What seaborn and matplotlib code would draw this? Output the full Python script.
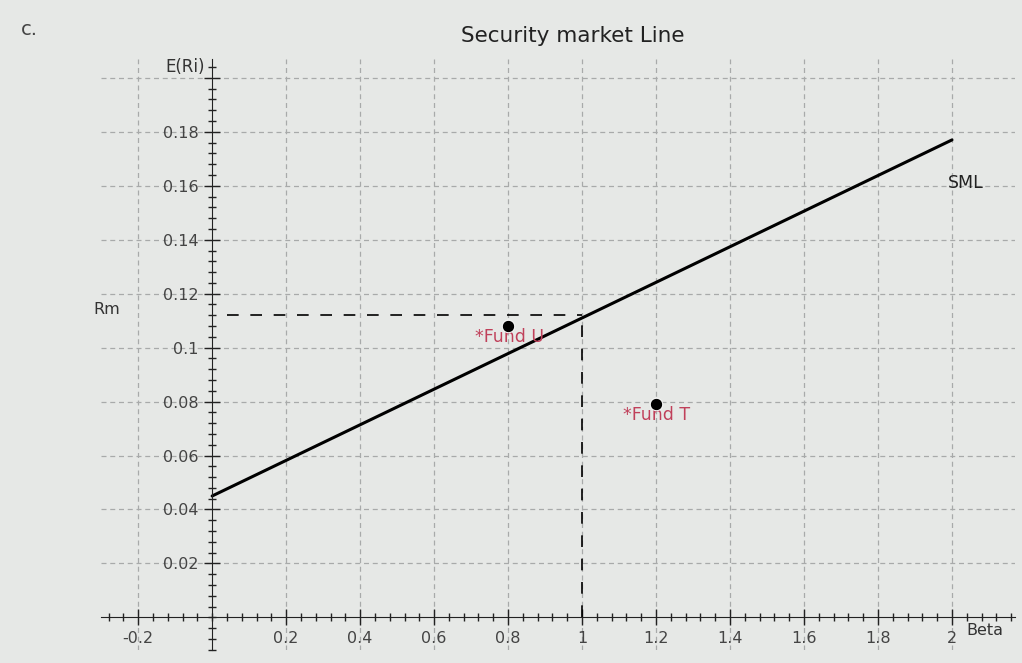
import numpy as np
import pandas as pd
import seaborn as sns
import matplotlib.pyplot as plt
from matplotlib.ticker import MultipleLocator

# SML values
rm = 0.112          # market return (beta = 1)
sml_beta = [0.0, 2.0]
sml_ret = [0.045, 0.177]

fund_names = ["*Fund U", "*Fund T"]
fund_beta = [0.8, 1.2]
fund_ret = [0.108, 0.079]

x_ticks = [-0.2, 0.2, 0.4, 0.6, 0.8, 1, 1.2, 1.4, 1.6, 1.8, 2]
y_ticks = [0.02, 0.04, 0.06, 0.08, 0.1, 0.12, 0.14, 0.16, 0.18, 0.2]
y_labels = ["0.02", "0.04", "0.06", "0.08", "0.1", "0.12", "0.14", "0.16", "0.18", ""]

sns.set_style("white")
plt.rcParams['font.family'] = ['DejaVu Sans']

fig = plt.figure(figsize=(10.22, 6.63), dpi=100)
fig.patch.set_facecolor("#e6e8e6")
ax = fig.add_axes([0.099, 0.02, 0.894, 0.891])
ax.set_facecolor("#e6e8e6")

sml_df = pd.DataFrame({"beta": sml_beta, "ret": sml_ret})
sns.lineplot(data=sml_df, x="beta", y="ret", color="black", lw=2.2, ax=ax)

fund_df = pd.DataFrame({"beta": fund_beta, "ret": fund_ret, "name": fund_names})
sns.scatterplot(data=fund_df, x="beta", y="ret", color="black", s=80, ax=ax, zorder=5)

# dashed guide lines for Rm at beta = 1
ax.plot([0.04, 1.0], [rm, rm], color="black", lw=1.2, dashes=(7, 7))
ax.plot([1.0, 1.0], [0, rm], color="black", lw=1.2, dashes=(7, 7))

for name, b, r in zip(fund_names, fund_beta, fund_ret):
    ax.text(b - 0.09, r - 0.004, name, color="#c0405a", fontsize=12.5, va="center", ha="left")

ax.text(1.99, 0.161, "SML", fontsize=12.5, color="#222222", va="center")
ax.text(-0.32, rm + 0.002, "Rm", fontsize=11.5, color="#333333", va="center", ha="left")
ax.text(-0.02, 0.204, "E(Ri)", fontsize=12, color="#333333", va="center", ha="right")
ax.text(2.04, -0.0048, "Beta", fontsize=11.5, color="#333333", va="center", ha="left")

ax.set_xlim(-0.3, 2.17)
ax.set_ylim(-0.012, 0.207)
ax.set_xticks(x_ticks)
ax.set_xticklabels([f"{v:g}" for v in x_ticks])
ax.set_yticks(y_ticks)
ax.set_yticklabels(y_labels)
ax.xaxis.set_minor_locator(MultipleLocator(0.04))
ax.yaxis.set_minor_locator(MultipleLocator(0.004))
ax.tick_params(which="major", direction="inout", length=12, width=1, colors="#222222",
               labelsize=11.5, labelcolor="#444444")
ax.tick_params(which="minor", direction="inout", length=6, width=1, colors="#222222")
ax.tick_params(axis="x", which="both", bottom=True)
ax.tick_params(axis="y", which="both", left=True)

for side in ["top", "right"]:
    ax.spines[side].set_visible(False)
ax.spines["left"].set_position(("data", 0))
ax.spines["bottom"].set_position(("data", 0))
ax.spines["left"].set_color("#222222")
ax.spines["bottom"].set_color("#222222")
ax.set_xlabel("")
ax.set_ylabel("")

ax.grid(True, which="major", color="#a8aaaa", lw=0.9, dashes=(4, 3))
ax.set_axisbelow(True)

fig.text(0.56, 0.945, "Security market Line", fontsize=15.5, color="#222222", ha="center", va="center")
fig.text(0.02, 0.955, "c.", fontsize=14, color="#444444", ha="left", va="center")

plt.savefig("out.png", dpi=100, facecolor=fig.get_facecolor())
